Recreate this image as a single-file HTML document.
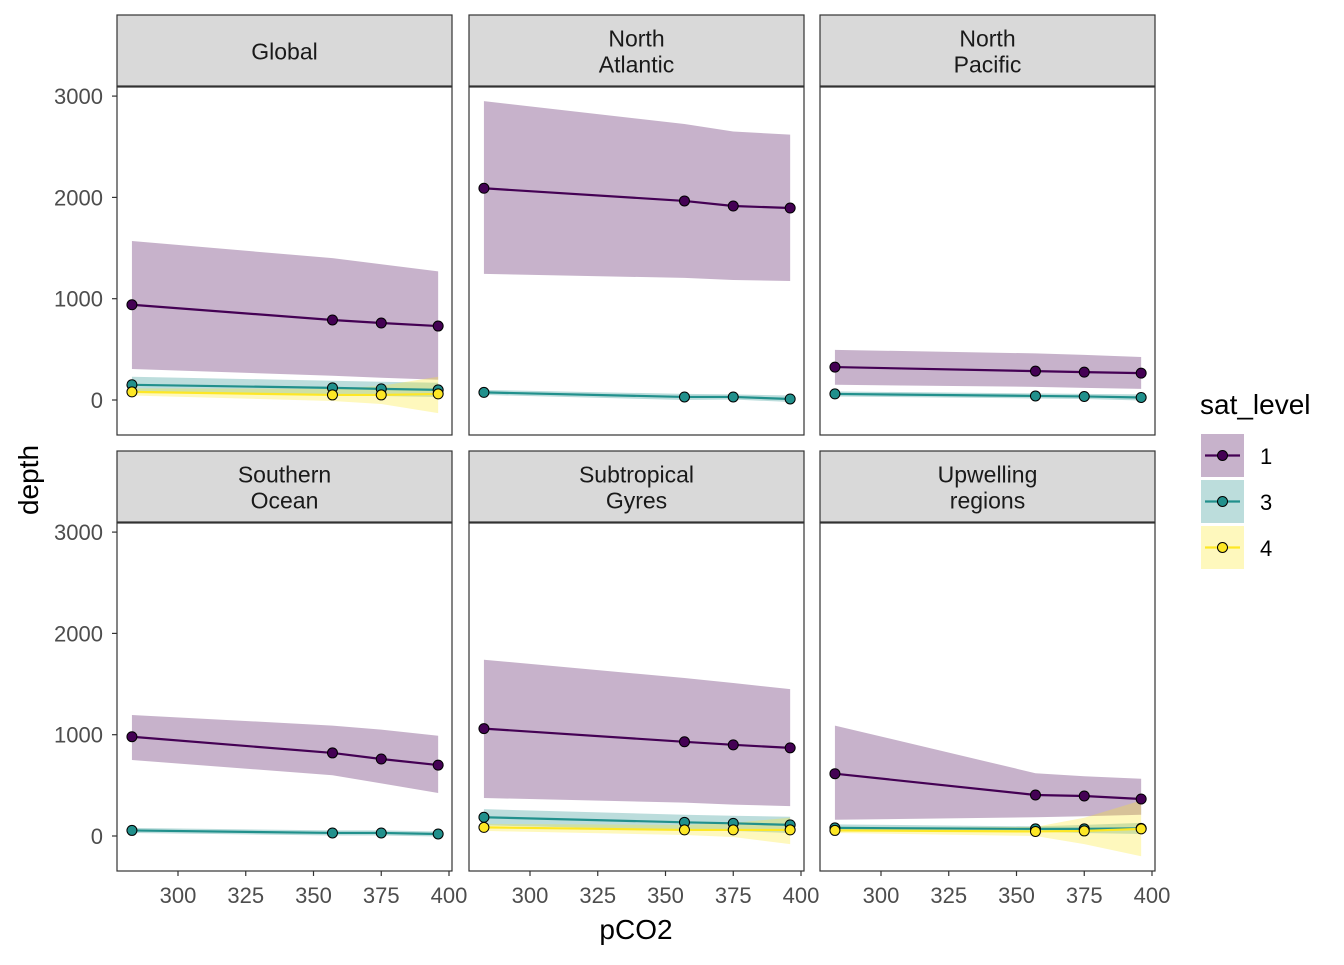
<!DOCTYPE html>
<html><head><meta charset="utf-8"><style>
body{margin:0;background:#fff;font-family:"Liberation Sans",sans-serif;}
svg text{font-family:"Liberation Sans",sans-serif;}
</style></head><body>
<svg id="c" width="1344" height="960"></svg>
<script>
const xVals=[283,357,375,396];
const panelNames=[["Global"],["North","Atlantic"],["North","Pacific"],["Southern","Ocean"],["Subtropical","Gyres"],["Upwelling","regions"]];
const sat1=[[940,790,760,730],[2090,1965,1915,1895],[325,285,275,265],[980,820,760,700],[1060,930,900,870],[615,405,395,365]];
const sat1Hi=[[1570,1400,1340,1270],[2950,2725,2650,2620],[495,460,445,425],[1195,1090,1050,990],[1740,1560,1510,1450],[1090,620,590,565]];
const sat1Lo=[[306,240,220,200],[1245,1205,1185,1175],[150,130,120,110],[750,600,520,425],[375,330,310,295],[160,185,195,210]];
const sat3=[[150,120,110,100],[75,30,30,10],[60,40,35,25],[55,30,30,20],[185,135,125,110],[80,70,70,75]];
const sat3Hi=[[230,190,180,170],[100,60,55,45],[85,65,60,55],[80,55,55,45],[265,210,200,190],[115,95,110,130]];
const sat3Lo=[[70,50,40,30],[50,0,5,-20],[35,15,10,-5],[30,5,5,-5],[105,60,50,30],[45,45,30,20]];
const sat4=[[80,50,50,60],null,null,null,[85,60,60,60],[55,45,50,70]];
const sat4Hi=[[115,110,140,230],null,null,null,[120,110,130,180],[80,90,180,350]];
const sat4Lo=[[45,-10,-40,-130],null,null,null,[50,10,-10,-80],[30,0,-80,-200]];
const yTicks=[0,1000,2000,3000];
const xTicks=[300,325,350,375,400];
const colors=["#440154","#21908C","#FDE725"];
const NS="http://www.w3.org/2000/svg";
const svg=document.getElementById('c');
function mk(t,a,p){const e=document.createElementNS(NS,t);for(const k in a)e.setAttribute(k,a[k]);(p||svg).appendChild(e);return e;}
const colX=[117,469,820], rowY=[87,523], pw=335, ph=348, stripH=71;
function sx(c,v){return colX[c]+61+(v-300)*2.71;}
function sy(r,v){return rowY[r]+313-v*0.1013;}
for(let i=0;i<6;i++){
  const c=i%3,r=Math.floor(i/3);
  const g=mk('g',{});
  
  
  const st=mk('rect',{x:colX[c],y:rowY[r]-stripH-1,width:pw,height:stripH,fill:'#d9d9d9',stroke:'#333','stroke-width':1.2},g);
  
  const lines=panelNames[i];
  lines.forEach((s,j)=>{const t=mk('text',{x:colX[c]+pw/2,y:rowY[r]-stripH/2+(lines.length==1?8:(j==0?-5:21)),'text-anchor':'middle','font-size':23,fill:'#1a1a1a'},g);t.textContent=s;
    });
  mk('rect',{x:colX[c],y:rowY[r],width:pw,height:ph,fill:'#fff'},g);
  const series=[[sat1,sat1Hi,sat1Lo],[sat3,sat3Hi,sat3Lo],[sat4,sat4Hi,sat4Lo]];
  series.forEach((s,k)=>{
    if(!s[0][i])return;
    let d='M'+xVals.map((x,j)=>sx(c,x)+','+sy(r,s[1][i][j])).join('L')+'L'+xVals.slice().reverse().map((x,j)=>sx(c,x)+','+sy(r,s[2][i][3-j])).join('L')+'Z';
    const rb=mk('path',{d:d,fill:colors[k],'fill-opacity':0.3},g);
    
  });
  series.forEach((s,k)=>{
    if(!s[0][i])return;
    const ln=mk('polyline',{points:xVals.map((x,j)=>sx(c,x)+','+sy(r,s[0][i][j])).join(' '),fill:'none',stroke:colors[k],'stroke-width':2.2},g);
    
    xVals.forEach((x,j)=>{const p=mk('circle',{cx:sx(c,x),cy:sy(r,s[0][i][j]),r:5,fill:colors[k],stroke:'#000','stroke-width':1},g);
      });
  });
  mk('rect',{x:colX[c],y:rowY[r],width:pw,height:ph,fill:'none',stroke:'#333','stroke-width':1.2},g);
  if(c==0){yTicks.forEach(v=>{mk('line',{x1:colX[c]-5,x2:colX[c],y1:sy(r,v),y2:sy(r,v),stroke:'#333','stroke-width':1.2});
    const t=mk('text',{x:colX[c]-14,y:sy(r,v)+8,'text-anchor':'end','font-size':22,fill:'#4d4d4d'});t.textContent=v;
    });}
  if(r==1){xTicks.forEach(v=>{mk('line',{x1:sx(c,v),x2:sx(c,v),y1:rowY[r]+ph,y2:rowY[r]+ph+5,stroke:'#333','stroke-width':1.2});
    const t=mk('text',{x:sx(c,v),y:rowY[r]+ph+32,'text-anchor':'middle','font-size':22,fill:'#4d4d4d'});t.textContent=v;
    });}
}
let t=mk('text',{x:636,y:939,'text-anchor':'middle','font-size':28,fill:'#000'});t.textContent='pCO2';

t=mk('text',{x:38,y:480,'text-anchor':'middle','font-size':28,fill:'#000',transform:'rotate(-90 38 480)'});t.textContent='depth';

t=mk('text',{x:1200,y:414,'font-size':28,fill:'#000'});t.textContent='sat_level';

["1","3","4"].forEach((s,k)=>{const y=434+k*46;
  const g=mk('g',{});
  mk('rect',{x:1201,y:y,width:43,height:43,fill:colors[k],'fill-opacity':0.3},g);
  mk('line',{x1:1205,x2:1240,y1:y+21.5,y2:y+21.5,stroke:colors[k],'stroke-width':2.2},g);
  mk('circle',{cx:1222.5,cy:y+21.5,r:5,fill:colors[k],stroke:'#000','stroke-width':1},g);
  const tt=mk('text',{x:1260,y:y+30,'font-size':22,fill:'#000'},g);tt.textContent=s;});
</script>
</body></html>
